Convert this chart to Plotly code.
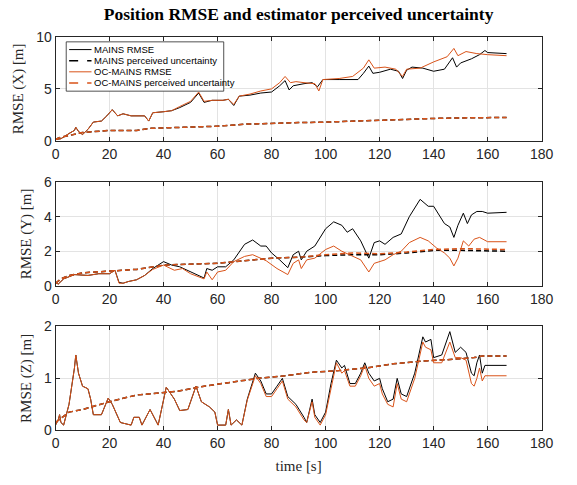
import plotly.graph_objects as go

# ---------------- data ----------------
x_mains_t = [0, 1, 2, 5, 7, 7.5, 8.5, 10, 12, 14, 17, 19, 21, 23, 25, 28, 33, 34.5, 36, 40, 43, 46, 50, 53, 55, 58, 62, 64, 66, 68, 72, 76, 80, 83, 85, 86.5, 88, 92, 95, 97, 99, 105, 112, 114, 116, 117.5, 120, 124, 127, 128.5, 130, 132, 136, 140, 144, 147, 148.5, 150, 154, 157, 159, 160, 167]
x_mains_v = [0.1, 0.15, 0.2, 0.7, 1.0, 1.3, 0.9, 0.6, 1.1, 1.8, 1.9, 2.4, 3.0, 2.4, 2.6, 2.4, 2.4, 1.9, 2.7, 2.8, 2.9, 3.2, 3.7, 4.6, 3.7, 3.9, 3.9, 4.0, 3.4, 4.3, 4.4, 4.6, 4.7, 5.3, 5.8, 4.9, 5.3, 5.5, 5.6, 5.2, 5.9, 5.9, 5.9, 6.5, 7.2, 6.5, 6.6, 6.9, 6.7, 6.0, 6.8, 7.1, 7.0, 6.7, 6.9, 8.0, 7.1, 7.5, 7.9, 8.3, 8.7, 8.5, 8.4]
x_oc_t = [0, 1, 2, 5, 7, 7.5, 8.5, 10, 12, 14, 17, 19, 21, 23, 25, 28, 33, 34.5, 36, 40, 43, 46, 50, 53, 55, 58, 62, 64, 66, 68, 72, 76, 80, 83, 85, 87, 89, 92, 96, 97.5, 99, 105, 110, 114, 116, 118, 122, 126, 128.5, 130, 135, 140, 145, 147.5, 149, 152, 156, 160, 167]
x_oc_v = [0.1, 0.15, 0.2, 0.7, 1.0, 1.3, 0.9, 0.6, 1.1, 1.8, 1.9, 2.4, 3.0, 2.4, 2.6, 2.4, 2.4, 1.9, 2.7, 2.8, 2.9, 3.3, 3.8, 4.7, 3.8, 3.9, 3.9, 4.0, 3.5, 4.3, 4.5, 4.8, 5.0, 5.6, 6.2, 5.6, 5.7, 5.6, 5.5, 4.8, 5.9, 6.0, 6.2, 7.0, 7.8, 7.0, 7.1, 6.9, 6.2, 6.9, 7.0, 7.6, 8.1, 8.9, 8.2, 8.6, 8.4, 8.3, 8.2]
x_unc_t = [0, 2, 5, 10, 20, 30, 35, 45, 55, 60, 70, 80, 90, 100, 110, 120, 130, 140, 150, 160, 167]
x_mains_unc = [0.15, 0.35, 0.5, 0.8, 1.0, 1.0, 1.2, 1.3, 1.4, 1.4, 1.6, 1.7, 1.75, 1.8, 1.9, 2.0, 2.05, 2.15, 2.2, 2.25, 2.25]
x_oc_unc = [0.15, 0.35, 0.5, 0.8, 1.0, 1.0, 1.2, 1.3, 1.4, 1.4, 1.6, 1.7, 1.75, 1.8, 1.9, 2.0, 2.05, 2.15, 2.2, 2.25, 2.25]

y_mains_t = [0, 1, 3, 7, 12, 16, 20, 22, 23.5, 25, 27, 30, 33, 36, 40, 43, 46, 50, 53, 55, 56, 58, 60, 63, 66, 70, 73, 76, 78, 80, 83, 86, 88, 90, 91, 93, 96, 100, 103, 106, 108, 110, 113, 116, 118, 120, 122, 125, 128, 131, 135, 138, 140, 144, 146, 147.5, 149, 151, 152.5, 154, 156, 158, 160, 167]
y_mains_v = [0.2, 0.1, 0.4, 0.65, 0.6, 0.7, 0.7, 0.9, 0.2, 0.15, 0.25, 0.35, 0.6, 1.0, 1.4, 1.2, 1.1, 0.8, 0.6, 0.45, 1.0, 0.9, 1.1, 1.1, 1.5, 2.4, 2.65, 2.3, 2.3, 1.9, 1.5, 1.05, 1.8, 2.0, 1.5, 2.0, 2.3, 3.3, 3.7, 3.5, 3.1, 3.3, 2.6, 1.6, 2.5, 2.6, 2.4, 2.8, 3.0, 4.0, 5.0, 4.6, 4.6, 3.6, 3.4, 2.8, 3.5, 4.2, 3.6, 4.1, 4.3, 4.3, 4.2, 4.25]
y_oc_t = [0, 1, 3, 7, 12, 16, 20, 22, 23.5, 25, 27, 30, 33, 36, 40, 44, 47, 50, 55, 56, 58, 60, 63, 66, 70, 73, 78, 82, 86, 88, 90, 91, 93, 96, 100, 103, 106, 110, 113, 116, 118, 122, 125, 128, 131, 135, 138, 141, 144, 146, 147.5, 149, 151, 153, 155, 157, 160, 167]
y_oc_v = [0.2, 0.1, 0.4, 0.65, 0.6, 0.7, 0.7, 0.9, 0.15, 0.15, 0.25, 0.35, 0.6, 0.95, 1.2, 0.9, 1.0, 0.7, 0.4, 0.8, 0.35, 0.8, 0.9, 1.4, 1.7, 1.8, 1.45, 1.0, 0.65, 1.3, 1.5, 1.0, 1.5, 1.6, 2.1, 2.3, 2.0, 1.7, 1.5, 0.8, 1.3, 1.5, 1.8, 2.0, 2.5, 2.8, 2.6, 2.2, 1.9, 1.6, 1.15, 1.6, 2.6, 2.3, 2.7, 2.8, 2.55, 2.55]
y_unc_t = [0, 2, 5, 10, 20, 30, 40, 50, 60, 70, 80, 90, 100, 110, 120, 130, 140, 150, 167]
y_mains_unc = [0.15, 0.4, 0.6, 0.75, 0.85, 0.95, 1.2, 1.25, 1.3, 1.45, 1.6, 1.65, 1.75, 1.8, 1.8, 1.9, 2.05, 2.05, 2.0]
y_oc_unc = [0.15, 0.4, 0.6, 0.75, 0.85, 0.95, 1.2, 1.25, 1.3, 1.45, 1.6, 1.65, 1.8, 1.9, 1.85, 1.95, 2.1, 2.15, 2.1]

z_mains_t = [0, 1, 1.5, 2, 3, 5, 7, 7.5, 8.5, 10, 12, 13, 14, 17, 19.5, 21, 24, 28, 29, 31, 32, 35, 38, 41, 44, 46, 49, 52, 54, 57, 59, 60, 63, 64, 65, 67, 69, 71, 74, 76, 78, 80, 82, 84, 86, 89, 92, 93, 95, 96, 98, 100, 102, 104, 106, 107, 109, 111, 113, 114.5, 116, 118, 120, 121, 123, 125, 126.5, 128, 130, 133, 136, 137, 139, 140, 143, 146, 148, 150, 152, 154, 155, 156, 157, 158, 159, 167]
z_mains_v = [0.1, 0.2, 0.3, 0.15, 0.1, 0.5, 1.2, 1.45, 1.1, 0.85, 0.8, 0.6, 0.3, 0.3, 0.62, 0.5, 0.15, 0.1, 0.25, 0.25, 0.1, 0.4, 0.1, 0.83, 0.6, 0.38, 0.4, 0.85, 0.55, 0.45, 0.35, 0.1, 0.1, 0.4, 0.1, 0.2, 0.1, 0.6, 1.1, 0.95, 0.7, 0.7, 0.85, 1.0, 0.65, 0.5, 0.25, 0.15, 0.6, 0.3, 0.15, 0.35, 0.9, 1.35, 1.2, 1.25, 0.9, 0.9, 1.1, 1.3, 1.1, 0.95, 1.0, 0.8, 0.55, 0.6, 1.0, 0.7, 0.65, 1.1, 1.8, 1.7, 1.75, 1.4, 1.45, 1.9, 1.5, 1.6, 1.5, 1.1, 1.05, 1.3, 1.45, 1.1, 1.25, 1.25]
z_oc_t = z_mains_t
z_oc_v = [0.1, 0.2, 0.3, 0.15, 0.1, 0.5, 1.2, 1.45, 1.1, 0.85, 0.8, 0.6, 0.3, 0.3, 0.62, 0.5, 0.15, 0.1, 0.25, 0.25, 0.1, 0.4, 0.1, 0.83, 0.6, 0.38, 0.4, 0.85, 0.55, 0.45, 0.35, 0.1, 0.1, 0.4, 0.1, 0.2, 0.1, 0.58, 1.05, 0.9, 0.65, 0.65, 0.8, 0.95, 0.6, 0.45, 0.2, 0.15, 0.55, 0.25, 0.1, 0.3, 0.8, 1.3, 1.1, 1.15, 0.85, 0.85, 1.05, 1.25, 1.0, 0.85, 0.9, 0.7, 0.5, 0.45, 0.9, 0.6, 0.55, 1.0, 1.7, 1.6, 1.55, 1.3, 1.3, 1.7, 1.4, 1.4, 1.35, 0.9, 0.85, 1.0, 1.2, 0.95, 1.05, 1.05]
z_unc_t = [0, 5, 10, 20, 30, 38, 45, 55, 65, 75, 85, 95, 105, 115, 125, 135, 145, 155, 158, 167]
z_mains_unc = [0.15, 0.35, 0.4, 0.55, 0.68, 0.72, 0.75, 0.85, 0.93, 1.0, 1.05, 1.12, 1.15, 1.2, 1.28, 1.33, 1.36, 1.4, 1.43, 1.43]
z_oc_unc = [0.15, 0.35, 0.4, 0.55, 0.68, 0.72, 0.75, 0.85, 0.93, 1.0, 1.05, 1.12, 1.15, 1.2, 1.28, 1.33, 1.36, 1.4, 1.43, 1.43]

names = ["MAINS RMSE", "MAINS perceived uncertainty", "OC-MAINS RMSE", "OC-MAINS perceived uncertainty"]
y_titles = ["RMSE (X) [m]", "RMSE (Y) [m]", "RMSE (Z) [m]"]

BLACK = "#000000"
ORANGE = "#D95319"
colors = [BLACK, BLACK, ORANGE, ORANGE]
dashes = ["solid", "5px,3px", "solid", "5px,3px"]
widths = [1, 1.5, 1, 1.5]

fig = go.Figure()
panels = [
    (x_mains_t, x_mains_v, x_unc_t, x_mains_unc, x_oc_t, x_oc_v, x_unc_t, x_oc_unc),
    (y_mains_t, y_mains_v, y_unc_t, y_mains_unc, y_oc_t, y_oc_v, y_unc_t, y_oc_unc),
    (z_mains_t, z_mains_v, z_unc_t, z_mains_unc, z_oc_t, z_oc_v, z_unc_t, z_oc_unc),
]
for i, p in enumerate(panels):
    xa = "x" if i == 0 else f"x{i+1}"
    ya = "y" if i == 0 else f"y{i+1}"
    for k in range(4):
        fig.add_trace(go.Scatter(x=p[2 * k], y=p[2 * k + 1], mode="lines", name=names[k],
                                 showlegend=False,
                                 line=dict(color=colors[k], width=widths[k], dash=dashes[k]),
                                 xaxis=xa, yaxis=ya))

W, H = 577, 485
xdom = [53 / W, 553 / W]
ydoms = [[1 - 137.3 / H, 1 - 30 / H], [1 - 287.3 / H, 1 - 180 / H], [1 - 436.7 / H, 1 - 329.3 / H]]
yranges = [[0, 10], [0, 6], [0, 2]]
ydticks = [5, 2, 1]

axis_common = dict(showline=True, mirror="ticks", linecolor="#262626", linewidth=1,
                   ticks="inside", ticklen=4, tickcolor="#262626",
                   showgrid=True, gridcolor="#e3e3e3", gridwidth=1, zeroline=False,
                   tickfont=dict(family="Liberation Sans, Arial, sans-serif", size=14, color="#262626"))

# manual legend (MATLAB-style compact box)
leg_left, leg_right, leg_top, leg_bottom = 64, 226, 35, 86
row_y = [43, 54.5, 66, 77.5]
shapes = [dict(type="rect", xref="paper", yref="paper",
               x0=leg_left / W, x1=leg_right / W, y0=1 - leg_bottom / H, y1=1 - leg_top / H,
               fillcolor="white", line=dict(color="#262626", width=0.8), layer="above")]
annotations = []
for k in range(4):
    yy = 1 - row_y[k] / H
    shapes.append(dict(type="line", xref="paper", yref="paper", x0=67 / W, x1=90 / W, y0=yy, y1=yy,
                       line=dict(color=colors[k], width=widths[k], dash="dash" if k % 2 else "solid"),
                       layer="above"))
    annotations.append(dict(text=names[k], xref="paper", yref="paper", x=91 / W, y=yy,
                            xanchor="left", yanchor="middle", showarrow=False,
                            font=dict(family="Liberation Sans, Arial, sans-serif", size=9.5, color="black")))

layout = dict(
    width=W, height=H, margin=dict(l=0, r=0, t=0, b=0),
    paper_bgcolor="white", plot_bgcolor="white",
    title=dict(text="<b>Position RMSE and estimator perceived uncertainty</b>",
               x=303 / W, xanchor="center", xref="paper", y=1 - 14 / H, yanchor="middle",
               font=dict(family="Liberation Serif, Times New Roman, serif", size=17.5, color="black")),
    showlegend=False,
    shapes=shapes,
    annotations=annotations,
)
for i in range(3):
    xk = "xaxis" if i == 0 else f"xaxis{i+1}"
    yk = "yaxis" if i == 0 else f"yaxis{i+1}"
    ya = "y" if i == 0 else f"y{i+1}"
    xa = "x" if i == 0 else f"x{i+1}"
    xd = dict(axis_common, domain=xdom, range=[0, 180], dtick=20, tick0=0, anchor=ya)
    if i == 2:
        xd["title"] = dict(text="time [s]", standoff=10,
                           font=dict(family="Liberation Serif, Times New Roman, serif", size=15, color="#262626"))
    yd = dict(axis_common, domain=ydoms[i], range=yranges[i], dtick=ydticks[i], tick0=0, anchor=xa,
              title=dict(text=y_titles[i], standoff=8,
                         font=dict(family="Liberation Serif, Times New Roman, serif", size=15, color="#262626")))
    layout[xk] = xd
    layout[yk] = yd

fig.update_layout(**layout)
fig.write_html("out.html")
